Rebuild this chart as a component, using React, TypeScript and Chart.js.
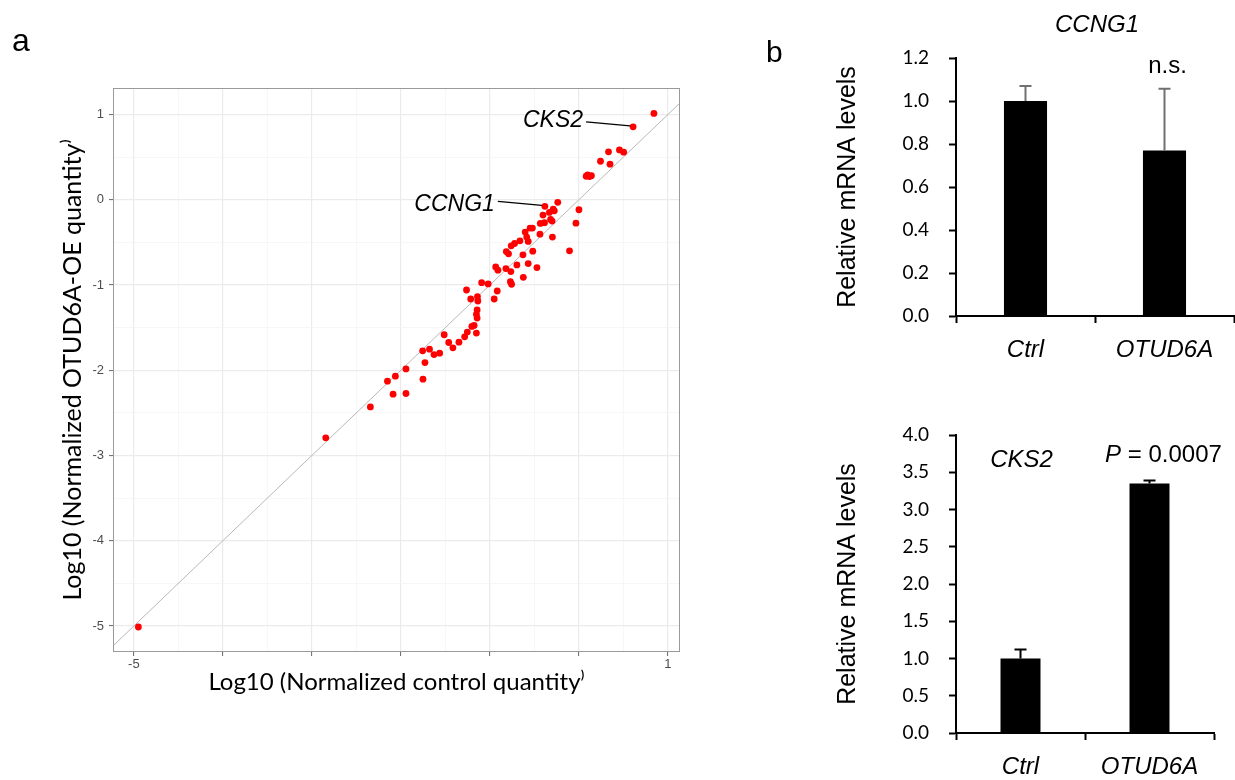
import React, { useEffect, useRef } from 'react';
import { Chart, registerables } from 'chart.js';

Chart.register(...registerables);

// ---------- Panel a: scatter data (log10 normalized quantities) ----------
const controlLog10 = [
  0.842, 0.608, 0.332, 0.455, 0.502, 0.242, 0.349, 0.081, 0.098, 0.119, 0.14,
  0.0, -0.034, -0.106, -0.383, -0.238, -0.404, -0.332, -0.289, -0.277, -0.387,
  -0.434, -0.319, -0.302, -0.549, -0.523, -0.604, -0.438, -0.298, -0.587, -0.57,
  -0.663, -0.723, -0.761, -0.816, -0.791, -0.519, -0.629, -0.57, -0.697, -0.472,
  -0.82, -0.765, -0.935, -0.91, -0.625, -0.77, -0.757, -1.093, -1.02, -0.918,
  -0.952, -1.263, -1.216, -1.14, -1.136, -1.144, -1.152, -1.144, -1.178, -1.203,
  -1.152, -1.254, -1.284, -1.348, -1.514, -1.463, -1.416, -1.565, -1.628, -1.679,
  -1.756, -1.73, -1.943, -2.062, -1.752, -2.151, -2.088, -1.943, -2.343, -2.844,
  -4.949,
];
const otud6aLog10 = [
  1.012, 0.855, 0.561, 0.584, 0.557, 0.451, 0.416, 0.275, 0.29, 0.271, 0.282,
  -0.118, -0.275, -0.6, -0.078, -0.031, -0.18, -0.149, -0.11, -0.13, -0.27,
  -0.278, -0.231, -0.251, -0.333, -0.333, -0.38, -0.404, -0.439, -0.439, -0.49,
  -0.482, -0.514, -0.541, -0.608, -0.635, -0.604, -0.647, -0.749, -0.765, -0.796,
  -0.808, -0.843, -0.788, -0.827, -0.91, -0.961, -0.992, -0.973, -0.988, -1.071,
  -1.165, -1.059, -1.165, -1.137, -1.188, -1.294, -1.345, -1.388, -1.475, -1.486,
  -1.565, -1.553, -1.608, -1.671, -1.584, -1.675, -1.737, -1.8, -1.816, -1.753,
  -1.773, -1.91, -1.985, -2.07, -2.105, -2.129, -2.281, -2.273, -2.43, -2.793,
  -5.012,
];
const labeledGenes = ['CKS2', 'CCNG1'];
const labeledIndex = [1, 14];
const identityLine = [-6, 2];
const scatterXTicks = [-5, -4.5, -4, -3.5, -3, -2.5, -2, -1.5, -1, -0.5, 0, 0.5, 1];
const scatterYTicks = [-5, -4.5, -4, -3.5, -3, -2.5, -2, -1.5, -1, -0.5, 0, 0.5, 1];
const scatterXShownLabels = [-5, 1];
const scatterYShownLabels = [-5, -4, -3, -2, -1, 0, 1];

// ---------- Panel b: qPCR bars ----------
const barCategories = ['Ctrl', 'OTUD6A'];
const ccng1Values = [1.0, 0.77];
const ccng1Errors = [0.07, 0.287];
const ccng1Ticks = [0, 0.2, 0.4, 0.6, 0.8, 1.0, 1.2];
const cks2Values = [1.0, 3.35];
const cks2Errors = [0.12, 0.04];
const cks2Ticks = [0, 0.5, 1.0, 1.5, 2.0, 2.5, 3.0, 3.5, 4.0];

const CALIBRI = 'Lato';
const ARIAL = '"Liberation Sans", Arial, sans-serif';

const isInt = (v: number) => Math.abs(v - Math.round(v)) < 1e-6;

function scatterConfig(): any {
  const annot = {
    id: 'annot',
    afterDatasetsDraw(chart: any) {
      const { ctx, chartArea: a, scales } = chart;
      ctx.save();
      // panel border
      ctx.strokeStyle = '#9a9a9a';
      ctx.lineWidth = 1;
      ctx.strokeRect(a.left + 0.5, a.top + 0.5, a.right - a.left - 1, a.bottom - a.top - 1);
      // gene labels
      const textBase = [0, 5];
      labeledGenes.forEach((g, k) => {
        const i = labeledIndex[k];
        const px = scales.x.getPixelForValue(controlLog10[i]);
        const py = scales.y.getPixelForValue(otud6aLog10[i]);
        ctx.strokeStyle = '#000';
        ctx.lineWidth = 1.2;
        ctx.beginPath();
        ctx.moveTo(px - 47, py - 5);
        ctx.lineTo(px - 3, py - 1);
        ctx.stroke();
        ctx.fillStyle = '#000';
        ctx.font = `italic 23px ${ARIAL}`;
        ctx.textAlign = 'right';
        ctx.textBaseline = 'alphabetic';
        ctx.fillText(g, px - 50, py + textBase[k]);
      });
      ctx.restore();
    },
    afterDraw(chart: any) {
      const { ctx } = chart;
      ctx.save();
      ctx.fillStyle = '#000';
      ctx.font = `32px ${ARIAL}`;
      ctx.textAlign = 'left';
      ctx.textBaseline = 'alphabetic';
      ctx.fillText('a', 12, 51);
      ctx.restore();
    },
  };
  return {
    type: 'scatter',
    data: {
      datasets: [
        {
          type: 'scatter',
          data: controlLog10.map((x, i) => ({ x, y: otud6aLog10[i] })),
          backgroundColor: '#ff0000',
          borderWidth: 0,
          pointRadius: 3.4,
          order: 0,
        },
        {
          type: 'line',
          data: identityLine.map((v) => ({ x: v, y: v })),
          borderColor: '#b8b8b8',
          borderWidth: 1,
          pointRadius: 0,
          fill: false,
          order: 1,
        },
      ],
    },
    options: {
      animation: false,
      responsive: false,
      maintainAspectRatio: false,
      layout: { padding: { top: 88, right: 20, left: 0, bottom: 0 } },
      plugins: { legend: { display: false }, tooltip: { enabled: false }, title: { display: false } },
      scales: {
        x: {
          type: 'linear',
          min: -5.234,
          max: 1.135,
          afterBuildTicks: (s: any) => {
            s.ticks = scatterXTicks.map((v) => ({ value: v }));
          },
          afterFit: (s: any) => {
            s.height = 68;
          },
          border: { display: false },
          grid: {
            color: (c: any) => (c.tick && isInt(c.tick.value) ? '#ebebeb' : '#f4f4f4'),
            lineWidth: (c: any) => (c.tick && isInt(c.tick.value) ? 1.2 : 0.7),
            tickColor: (c: any) => (c.tick && isInt(c.tick.value) ? '#666' : 'rgba(0,0,0,0)'),
            tickLength: 4,
            tickWidth: 1,
          },
          ticks: {
            autoSkip: false,
            maxRotation: 0,
            padding: 1,
            color: '#4d4d4d',
            font: { family: ARIAL, size: 13 },
            callback: (v: number) => (scatterXShownLabels.some((s) => Math.abs(s - v) < 1e-6) ? String(v) : ''),
          },
          title: {
            display: true,
            text: 'Log10 (Normalized control quantity\u207E',
            color: '#000',
            font: { family: CALIBRI, size: 24 },
            padding: { top: 0, bottom: 23 },
          },
        },
        y: {
          type: 'linear',
          min: -5.305,
          max: 1.31,
          afterBuildTicks: (s: any) => {
            s.ticks = scatterYTicks.map((v) => ({ value: v }));
          },
          afterFit: (s: any) => {
            s.width = 113;
          },
          border: { display: false },
          grid: {
            color: (c: any) => (c.tick && isInt(c.tick.value) ? '#ebebeb' : '#f4f4f4'),
            lineWidth: (c: any) => (c.tick && isInt(c.tick.value) ? 1.2 : 0.7),
            tickColor: (c: any) => (c.tick && isInt(c.tick.value) ? '#666' : 'rgba(0,0,0,0)'),
            tickLength: 4,
            tickWidth: 1,
          },
          ticks: {
            autoSkip: false,
            padding: 5,
            color: '#4d4d4d',
            font: { family: ARIAL, size: 13 },
            callback: (v: number) => (scatterYShownLabels.some((s) => Math.abs(s - v) < 1e-6) ? String(v) : ''),
          },
          title: {
            display: true,
            text: 'Log10 (Normalized OTUD6A-OE quantity\u207E',
            color: '#000',
            font: { family: CALIBRI, size: 25 },
            padding: { top: 58, bottom: 0 },
          },
        },
      },
    },
    plugins: [annot],
  };
}

function barConfig(
  values: number[],
  errors: number[],
  ticks: number[],
  opts: {
    max: number;
    padTop: number;
    padRight: number;
    xHeight: number;
    errColor: string;
    draw: (chart: any) => void;
  }
): any {
  const errPlugin = {
    id: 'errbars',
    afterDatasetsDraw(chart: any) {
      const { ctx, scales } = chart;
      const meta = chart.getDatasetMeta(0);
      ctx.save();
      ctx.strokeStyle = opts.errColor;
      ctx.lineWidth = 2;
      meta.data.forEach((el: any, i: number) => {
        const x = el.x;
        const yTop = scales.y.getPixelForValue(values[i] + errors[i]);
        ctx.beginPath();
        ctx.moveTo(x, el.y);
        ctx.lineTo(x, yTop);
        ctx.moveTo(x - 6, yTop);
        ctx.lineTo(x + 6, yTop);
        ctx.stroke();
      });
      ctx.restore();
    },
    afterDraw(chart: any) {
      opts.draw(chart);
    },
  };
  return {
    type: 'bar',
    data: {
      labels: barCategories,
      datasets: [
        {
          data: values,
          backgroundColor: '#000000',
          borderWidth: 0,
          barPercentage: 0.31,
          categoryPercentage: 1,
        },
      ],
    },
    options: {
      animation: false,
      responsive: false,
      maintainAspectRatio: false,
      layout: { padding: { top: opts.padTop, right: opts.padRight, left: 0, bottom: 0 } },
      plugins: { legend: { display: false }, tooltip: { enabled: false } },
      scales: {
        x: {
          afterFit: (s: any) => {
            s.height = opts.xHeight;
          },
          border: { display: true, color: '#000', width: 2 },
          grid: {
            offset: true,
            drawOnChartArea: false,
            drawTicks: true,
            tickLength: 7,
            tickWidth: 2,
            tickColor: '#000',
          },
          ticks: {
            color: '#000',
            padding: 13,
            maxRotation: 0,
            font: { family: ARIAL, size: 24, style: 'italic' },
          },
        },
        y: {
          min: 0,
          max: opts.max,
          afterBuildTicks: (s: any) => {
            s.ticks = ticks.map((v) => ({ value: v }));
          },
          afterFit: (s: any) => {
            s.width = 196;
          },
          border: { display: true, color: '#000', width: 2 },
          grid: { drawOnChartArea: false, tickLength: 7, tickWidth: 2, tickColor: '#000' },
          ticks: {
            color: '#000',
            padding: 20,
            font: { family: CALIBRI, size: 19 },
            callback: (v: number) => v.toFixed(1),
          },
          title: {
            display: true,
            text: 'Relative mRNA levels',
            color: '#000',
            font: { family: ARIAL, size: 25 },
            padding: { top: 73, bottom: 0 },
          },
        },
      },
    },
    plugins: [errPlugin],
  };
}

function useChart(ref: React.RefObject<HTMLCanvasElement>, make: () => any) {
  useEffect(() => {
    if (!ref.current) return;
    const chart = new Chart(ref.current, make());
    return () => chart.destroy();
  }, []);
}

export default function App() {
  const scatterRef = useRef<HTMLCanvasElement>(null);
  const topRef = useRef<HTMLCanvasElement>(null);
  const botRef = useRef<HTMLCanvasElement>(null);

  useChart(scatterRef, scatterConfig);

  useChart(topRef, () =>
    barConfig(ccng1Values, ccng1Errors, ccng1Ticks, {
      max: 1.2,
      padTop: 58,
      padRight: 1,
      xHeight: 64,
      errColor: '#707070',
      draw: (chart: any) => {
        const { ctx, chartArea: a, scales } = chart;
        ctx.save();
        ctx.fillStyle = '#000';
        ctx.textBaseline = 'middle';
        ctx.textAlign = 'center';
        ctx.font = `italic 24px ${ARIAL}`;
        ctx.fillText('CCNG1', (a.left + a.right) / 2 + 2, 25);
        ctx.font = `24px ${ARIAL}`;
        ctx.fillText('n.s.', scales.x.getPixelForValue(1) + 3, 66);
        ctx.font = `30px ${ARIAL}`;
        ctx.textAlign = 'left';
        ctx.textBaseline = 'alphabetic';
        ctx.fillText('b', 6, 62);
        ctx.restore();
      },
    })
  );

  useChart(botRef, () =>
    barConfig(cks2Values, cks2Errors, cks2Ticks, {
      max: 4.0,
      padTop: 55,
      padRight: 21,
      xHeight: 47,
      errColor: '#000',
      draw: (chart: any) => {
        const { ctx, scales } = chart;
        ctx.save();
        ctx.fillStyle = '#000';
        ctx.textBaseline = 'middle';
        ctx.textAlign = 'center';
        ctx.font = `italic 24px ${ARIAL}`;
        ctx.fillText('CKS2', scales.x.getPixelForValue(0) + 1, 80);
        // "P = 0.0007" with italic P
        const cx = scales.x.getPixelForValue(1) + 14;
        ctx.font = `italic 24px ${ARIAL}`;
        const wP = ctx.measureText('P').width;
        ctx.font = `24px ${ARIAL}`;
        const rest = ' = 0.0007';
        const wR = ctx.measureText(rest).width;
        const x0 = cx - (wP + wR) / 2;
        ctx.textAlign = 'left';
        ctx.font = `italic 24px ${ARIAL}`;
        ctx.fillText('P', x0, 75);
        ctx.font = `24px ${ARIAL}`;
        ctx.fillText(rest, x0 + wP, 75);
        ctx.restore();
      },
    })
  );

  const abs = (l: number, t: number, w: number, h: number): React.CSSProperties => ({
    position: 'absolute',
    left: l,
    top: t,
    width: w,
    height: h,
  });

  return (
    <div style={{ position: 'absolute', left: 0, top: 0, width: 1235, height: 780, background: '#fff', overflow: 'hidden' }}>
      <canvas ref={scatterRef} width={700} height={720} style={abs(0, 0, 700, 720)} />
      <canvas ref={topRef} width={475} height={380} style={abs(760, 0, 475, 380)} />
      <canvas ref={botRef} width={475} height={400} style={abs(760, 380, 475, 400)} />
    </div>
  );
}
